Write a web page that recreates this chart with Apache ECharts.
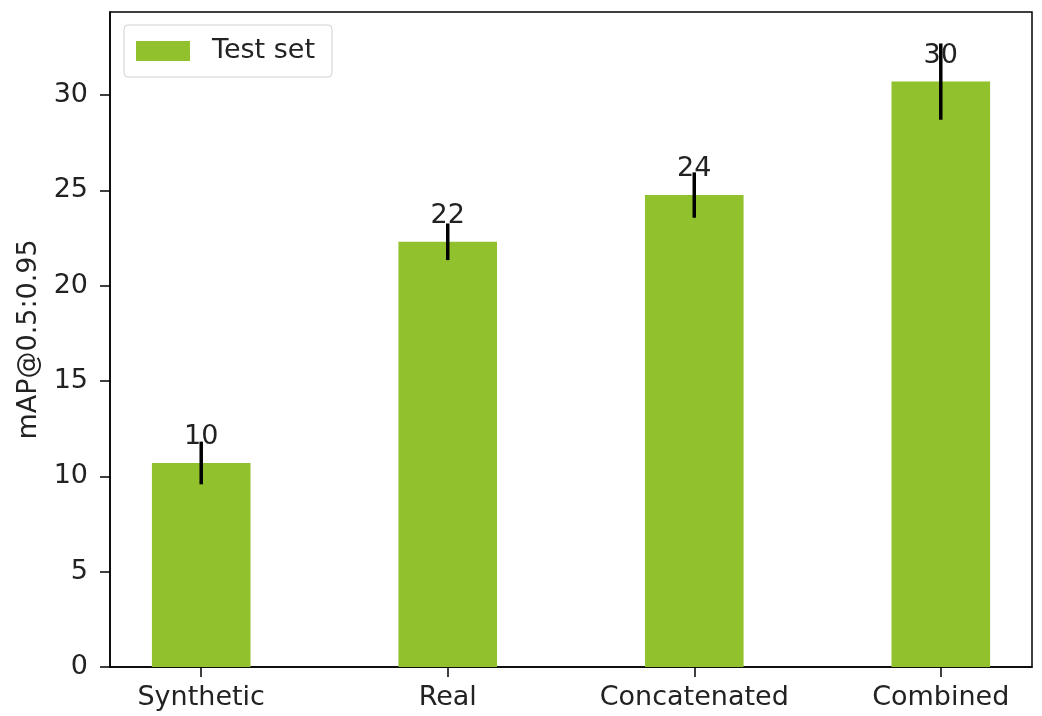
<!DOCTYPE html>
<html>
<head>
<meta charset="utf-8">
<script src="https://cdn.jsdelivr.net/npm/echarts@6/dist/echarts.min.js"></script>
<style>
  html, body { margin: 0; padding: 0; background: #fff; }
  #main { width: 1042px; height: 716px; }
</style>
</head>
<body>
<div id="main"></div>
<script>
var categories = ['Synthetic', 'Real', 'Concatenated', 'Combined'];
var scores = [10.7, 22.3, 24.75, 30.7];
var errors = [1.12, 0.96, 1.19, 2.0];
var barLabels = ['10', '22', '24', '30'];

var FONT = 'DejaVu Sans';
var FS = 27;
var GREEN = '#91c12c';

var chart = echarts.init(document.getElementById('main'));

var barData = scores.map(function (v, i) { return [i, v, errors[i]]; });

var option = {
  animation: false,
  grid: {
    left: 110, right: 10, top: 12, bottom: 49,
    show: true, borderColor: '#000', borderWidth: 1.5
  },
  legend: {
    left: 124, top: 25,
    data: [{ name: 'Test set', icon: 'rect', itemStyle: { color: GREEN } }],
    itemWidth: 54, itemHeight: 20,
    padding: [12, 17, 12, 12],
    borderColor: '#d0d0d0', borderWidth: 1, borderRadius: 4,
    textStyle: { fontFamily: FONT, fontSize: FS, lineHeight: 28, color: '#222', padding: [0, 0, 0, 17] }
  },
  xAxis: {
    type: 'value', min: -0.37, max: 3.37,
    splitLine: { show: false },
    axisLine: { show: true, onZero: false, lineStyle: { color: '#000', width: 1.5 } },
    axisTick: { show: true, length: 10, lineStyle: { color: '#000', width: 1.5 }, customValues: [0, 1, 2, 3] },
    axisLabel: {
      customValues: [0, 1, 2, 3], margin: 17,
      fontFamily: FONT, fontSize: FS, color: '#222',
      formatter: function (v) { return categories[Math.round(v)]; }
    }
  },
  yAxis: {
    type: 'value', min: 0, max: 34.35, interval: 5,
    name: 'mAP@0.5:0.95', nameLocation: 'middle', nameGap: 57, nameRotate: 90,
    nameTextStyle: { fontFamily: FONT, fontSize: FS, color: '#222' },
    splitLine: { show: false },
    axisLine: { show: true, onZero: false, lineStyle: { color: '#000', width: 1.5 } },
    axisTick: { show: true, length: 10, lineStyle: { color: '#000', width: 1.5 } },
    axisLabel: { showMaxLabel: false, margin: 22, fontFamily: FONT, fontSize: FS, color: '#222' }
  },
  series: [
    {
      name: 'Test set',
      type: 'custom',
      data: barData,
      renderItem: function (params, api) {
        var x = api.value(0), v = api.value(1);
        var p0 = api.coord([x - 0.2, v]);
        var p1 = api.coord([x + 0.2, 0]);
        return {
          type: 'rect',
          shape: { x: p0[0], y: p0[1], width: p1[0] - p0[0], height: p1[1] - p0[1] },
          style: { fill: GREEN }
        };
      },
      z: 2
    },
    {
      name: 'err',
      type: 'custom',
      data: barData,
      renderItem: function (params, api) {
        var x = api.value(0), v = api.value(1), e = api.value(2);
        var top = api.coord([x, v + e]);
        var bot = api.coord([x, v - e]);
        var mid = api.coord([x, v]);
        return {
          type: 'group',
          children: [
            {
              type: 'line',
              shape: { x1: top[0], y1: top[1], x2: bot[0], y2: bot[1] },
              style: { stroke: '#000', lineWidth: 3.5 }
            },
            {
              type: 'text',
              x: mid[0], y: mid[1] - 26,
              style: {
                text: barLabels[params.dataIndex],
                fontFamily: FONT, fontSize: FS, fill: '#222',
                align: 'center', verticalAlign: 'middle'
              },
              z2: 10
            }
          ]
        };
      },
      z: 3
    }
  ]
};

chart.setOption(option);
</script>
</body>
</html>
